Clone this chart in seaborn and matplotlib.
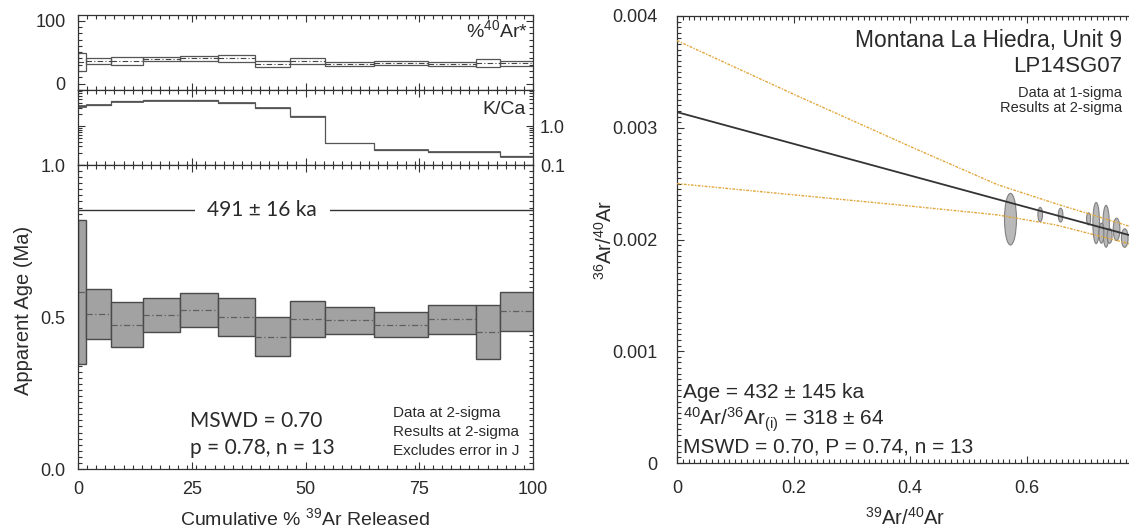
import matplotlib
matplotlib.use("Agg")
import matplotlib.pyplot as plt
import seaborn as sns
import numpy as np
import pandas as pd
from matplotlib.patches import Ellipse
from matplotlib.ticker import MultipleLocator, FixedLocator, FuncFormatter, LogLocator, NullFormatter

# ---------------- data ----------------
step_edges = [0, 1.7, 7.3, 14.2, 22.4, 30.7, 38.9, 46.5, 54.2, 65.0, 77.0, 87.4, 92.8, 100]
age_ma = [0.583, 0.510, 0.474, 0.506, 0.523, 0.500, 0.435, 0.493, 0.489, 0.474, 0.492, 0.451, 0.519]
age_err = [0.237, 0.081, 0.074, 0.055, 0.055, 0.061, 0.064, 0.060, 0.044, 0.041, 0.047, 0.089, 0.064]
ar40_pct = [34.8, 36.7, 36.4, 39.0, 40.0, 40.0, 31.1, 36.5, 31.4, 32.8, 31.4, 32.5, 32.2]
ar40_err = [14.7, 4.8, 6.2, 3.5, 4.3, 5.3, 4.5, 4.5, 3.2, 3.5, 3.2, 5.9, 4.0]
kca = [3.3, 3.6, 4.4, 4.6, 4.6, 4.0, 3.0, 1.8, 0.37, 0.25, 0.22, 0.22, 0.17]
kca_err = [0.25, 0.10, 0.10, 0.08, 0.08, 0.08, 0.08, 0.05, 0.006, 0.004, 0.004, 0.004, 0.005]
plateau_age_ka = "491 ± 16 ka"

iso_x = [0.572, 0.623, 0.658, 0.706, 0.719, 0.736, 0.728, 0.742, 0.754, 0.768, 0.781, 0.792, 0.805]
iso_y = [2.182e-3, 2.224e-3, 2.218e-3, 2.185e-3, 2.147e-3, 2.118e-3, 2.057e-3, 2.033e-3,
         2.091e-3, 2.013e-3, 1.995e-3, 1.985e-3, 1.970e-3]
iso_sx = [0.0103, 0.0040, 0.0040, 0.0035, 0.0057, 0.0057, 0.0043, 0.0043, 0.0057, 0.0057, 0.0050, 0.0050, 0.0050]
iso_sy = [0.231e-3, 0.064e-3, 0.062e-3, 0.054e-3, 0.184e-3, 0.187e-3, 0.090e-3, 0.067e-3,
          0.100e-3, 0.083e-3, 0.080e-3, 0.080e-3, 0.080e-3]
fit_x = [0.0, 0.8]
fit_y = [3.14e-3, 2.005e-3]
env_up_x = [0.0, 0.2, 0.414, 0.55, 0.65, 0.8]
env_up_y = [3.78e-3, 3.30e-3, 2.80e-3, 2.49e-3, 2.32e-3, 2.08e-3]
env_lo_x = [0.0, 0.379, 0.55, 0.65, 0.8]
env_lo_y = [2.50e-3, 2.31e-3, 2.22e-3, 2.13e-3, 1.93e-3]

# ---------------- style ----------------
sns.set_theme(style="ticks")
plt.rcParams["font.family"] = ["Liberation Sans", "DejaVu Sans"]
plt.rcParams["mathtext.fontset"] = "custom"
plt.rcParams["mathtext.rm"] = "Liberation Sans"
plt.rcParams["mathtext.it"] = "Liberation Sans:italic"
plt.rcParams["mathtext.bf"] = "Liberation Sans:bold"
TXT = "#2a2a2a"

W, H = 1129, 530
fig = plt.figure(figsize=(W / 100, H / 100), dpi=100)


def ax_px(l, t, r, b):
    return fig.add_axes([l / W, 1 - b / H, (r - l) / W, (b - t) / H])


def ftext(x, y, s, **kw):
    kw.setdefault("va", "center")
    kw.setdefault("color", TXT)
    return fig.text(x / W, 1 - y / H, s, **kw)


def style_axes(ax):
    for sp in ax.spines.values():
        sp.set_color("#333333")
        sp.set_linewidth(0.9)
    ax.tick_params(which="both", direction="in", top=True, right=True,
                   colors="#333333", labelcolor=TXT, labelsize=13, width=0.8)
    ax.tick_params(which="major", length=5)
    ax.tick_params(which="minor", length=3)
    ax.tick_params(axis="y", pad=9)
    ax.tick_params(axis="x", pad=9)


L, R = 78, 533
ax_ar = ax_px(L, 15, R, 90)
ax_kc = ax_px(L, 90, R, 165)
ax_age = ax_px(L, 165, R, 469)
ax_iso = ax_px(677, 16, 677 + 0.8 * 583, 463)

lefts = np.array(step_edges[:-1])
widths = np.diff(step_edges)
rights = lefts + widths

# ---- %40Ar* panel ----
a_mid = np.array(ar40_pct)
a_err = np.array(ar40_err)
ax_ar.bar(lefts, 2 * a_err, bottom=a_mid - a_err, width=widths, align="edge",
          fill=False, edgecolor="#555555", linewidth=0.9)
ax_ar.hlines(a_mid, lefts, rights, colors="#444444", linestyles=(0, (5, 2, 1, 2)), linewidth=0.8)
ax_ar.set_xlim(0, 100)
ax_ar.set_ylim(-10, 109)
style_axes(ax_ar)
ax_ar.yaxis.set_major_locator(FixedLocator([0, 100]))
ax_ar.yaxis.set_minor_locator(MultipleLocator(10))
ax_ar.xaxis.set_major_locator(MultipleLocator(25))
ax_ar.xaxis.set_minor_locator(MultipleLocator(2))
ax_ar.tick_params(labelbottom=False)
ax_ar.text(0.99, 0.80, "%$^{40}$Ar*", transform=ax_ar.transAxes, ha="right", va="center",
           fontsize=14, color=TXT)

# ---- K/Ca panel ----
k_mid = np.array(kca)
k_err = np.array(kca_err)
ax_kc.set_yscale("log")
ax_kc.bar(lefts, 2 * k_err, bottom=k_mid - k_err, width=widths, align="edge",
          fill=False, edgecolor="#666666", linewidth=0.7)
ax_kc.step(step_edges, list(kca) + [kca[-1]], where="post", color="#555555", linewidth=0.9)
ax_kc.set_xlim(0, 100)
ax_kc.set_ylim(0.1, 8.5)
style_axes(ax_kc)
ax_kc.yaxis.set_major_locator(FixedLocator([0.1, 1.0]))
ax_kc.yaxis.set_minor_locator(LogLocator(base=10, subs=np.arange(2, 10) * 1.0))
ax_kc.yaxis.set_minor_formatter(NullFormatter())
ax_kc.yaxis.set_major_formatter(FuncFormatter(lambda v, p: f"{v:.1f}"))
ax_kc.tick_params(axis="y", pad=5)
ax_kc.tick_params(labelleft=False, labelright=True, labelbottom=False)
ax_kc.xaxis.set_major_locator(MultipleLocator(25))
ax_kc.xaxis.set_minor_locator(MultipleLocator(2))
ax_kc.text(0.985, 0.74, "K/Ca", transform=ax_kc.transAxes, ha="right", va="center",
           fontsize=14, color=TXT)

# ---- age spectrum ----
g_mid = np.array(age_ma)
g_err = np.array(age_err)
ax_age.bar(lefts, 2 * g_err, bottom=g_mid - g_err, width=widths, align="edge",
           color="#a2a2a2", edgecolor="#4a4a4a", linewidth=1.0)
ax_age.hlines(g_mid, lefts, rights, colors="#5f5f5f", linestyles=(0, (5, 2, 1, 2)), linewidth=0.9)
ax_age.set_xlim(0, 100)
ax_age.set_ylim(0, 1.0)
style_axes(ax_age)
ax_age.yaxis.set_major_locator(FixedLocator([0.0, 0.5, 1.0]))
ax_age.yaxis.set_major_formatter(FuncFormatter(lambda v, p: f"{v:.1f}"))
ax_age.yaxis.set_minor_locator(MultipleLocator(0.02))
ax_age.xaxis.set_major_locator(MultipleLocator(25))
ax_age.xaxis.set_minor_locator(MultipleLocator(2))
plateau_y = 0.852
ax_age.plot([0, 100], [plateau_y, plateau_y], color="#333333", lw=1.0)
ax_age.text(40.5, plateau_y, plateau_age_ka, ha="center", va="center", fontsize=15,
            family=["Lato", "DejaVu Sans"], color=TXT,
            bbox=dict(boxstyle="square,pad=0.6", facecolor="white", edgecolor="none"))

ftext(24, 310, "Apparent Age (Ma)", rotation=90, ha="center", fontsize=14.5)
ftext(305, 518, "Cumulative % $^{39}$Ar Released", ha="center", fontsize=14)
ftext(190, 421, "MSWD = 0.70", ha="left", fontsize=15, family=["Lato", "DejaVu Sans"])
ftext(190, 448, "p = 0.78, n = 13", ha="left", fontsize=15, family=["Lato", "DejaVu Sans"])
ftext(393, 413, "Data at 2-sigma", ha="left", fontsize=11)
ftext(393, 432, "Results at 2-sigma", ha="left", fontsize=11)
ftext(393, 451, "Excludes error in J", ha="left", fontsize=11)

# ---- isochron ----
for x, y, sx, sy in zip(iso_x, iso_y, iso_sx, iso_sy):
    ax_iso.add_patch(Ellipse((x, y), 2 * sx, 2 * sy, facecolor="#b2b2b2",
                             edgecolor="#777777", linewidth=0.8, alpha=0.9, zorder=2))
sns.lineplot(x=fit_x, y=fit_y, ax=ax_iso, color="#333333", linewidth=1.3, zorder=3)
sns.lineplot(x=env_up_x, y=env_up_y, ax=ax_iso, color="#e2a63a", linewidth=1.0,
             linestyle=(0, (2, 1, 1, 1)), zorder=3)
sns.lineplot(x=env_lo_x, y=env_lo_y, ax=ax_iso, color="#e2a63a", linewidth=1.0,
             linestyle=(0, (2, 1, 1, 1)), zorder=3)
ax_iso.set_xlim(0, 0.8)
ax_iso.set_ylim(0, 0.004)
style_axes(ax_iso)
ax_iso.spines["right"].set_visible(False)
ax_iso.tick_params(which="both", right=False)
ax_iso.tick_params(axis="y", pad=14)
ax_iso.xaxis.set_major_locator(FixedLocator([0, 0.2, 0.4, 0.6]))
ax_iso.xaxis.set_major_formatter(FuncFormatter(lambda v, p: "0" if v == 0 else f"{v:.1f}"))
ax_iso.xaxis.set_minor_locator(MultipleLocator(0.01))
ax_iso.yaxis.set_major_locator(FixedLocator([0, 0.001, 0.002, 0.003, 0.004]))
ax_iso.yaxis.set_major_formatter(FuncFormatter(lambda v, p: "0" if v == 0 else f"{v:.3f}"))
ax_iso.yaxis.set_minor_locator(MultipleLocator(0.00005))
ax_iso.tick_params(axis="x", pad=12)
ax_iso.set_xlabel("")
ax_iso.set_ylabel("")

ftext(1122, 40, "Montana La Hiedra, Unit 9", ha="right", fontsize=16.5)
ftext(1122, 67, "LP14SG07", ha="right", fontsize=16)
ftext(1122, 93, "Data at 1-sigma", ha="right", fontsize=10.5)
ftext(1122, 108, "Results at 2-sigma", ha="right", fontsize=10.5)
ftext(683, 393, "Age = 432 ± 145 ka", ha="left", fontsize=15)
ftext(683, 420, "$^{40}$Ar/$^{36}$Ar$_{\\rm (i)}$ = 318 ± 64", ha="left", fontsize=15)
ftext(683, 447, "MSWD = 0.70, P = 0.74, n = 13", ha="left", fontsize=15)
ftext(605, 240, "$^{36}$Ar/$^{40}$Ar", rotation=90, ha="center", fontsize=14.5)
ftext(905, 518, "$^{39}$Ar/$^{40}$Ar", ha="center", fontsize=14.5)

fig.savefig("out.png", dpi=100)
